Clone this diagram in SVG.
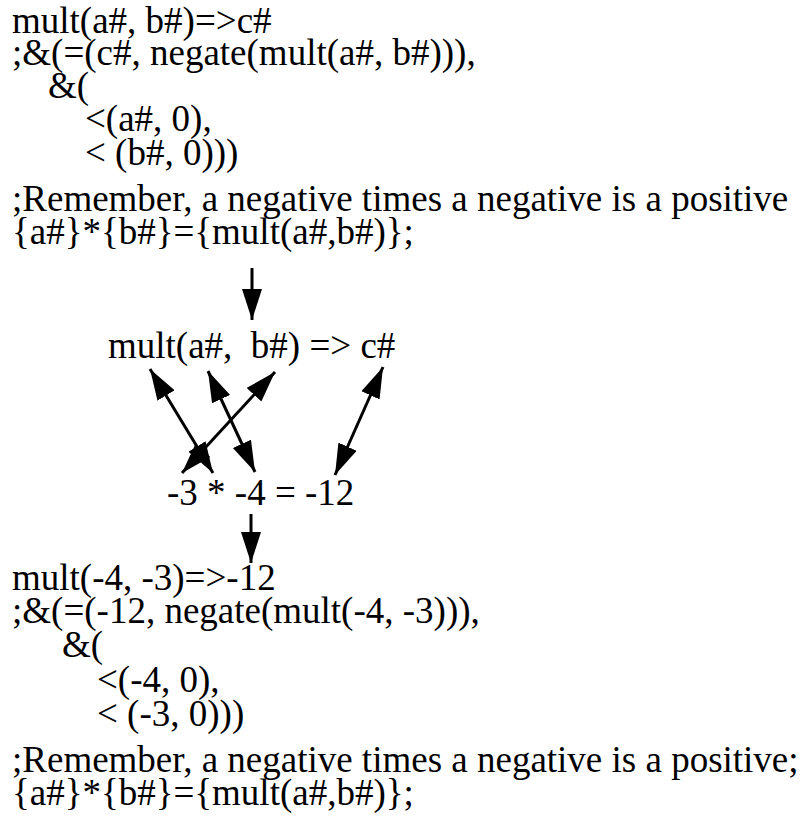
<svg xmlns="http://www.w3.org/2000/svg" width="807" height="828" viewBox="0 0 807 828">
<style>
text{font-family:"Liberation Serif","Times New Roman",serif;font-size:37px;fill:#000;white-space:pre}
.ln{stroke:#000;stroke-width:3;fill:none}
</style>
<defs>
<marker id="ah" markerUnits="userSpaceOnUse" markerWidth="34" markerHeight="22" refX="31" refY="10" orient="auto-start-reverse" viewBox="0 0 34 22">
<path d="M0,0 L31,10 L0,20 Z" fill="#000"/>
</marker>
</defs>
<rect width="807" height="828" fill="#fff"/>
<g id="rule1">
<text x="12" y="33">mult(a#, b#)=&gt;c#</text>
<text x="12" y="65">;&amp;(=(c#, negate(mult(a#, b#))),</text>
<text x="48" y="98">&amp;(</text>
<text x="85" y="131">&lt;(a#, 0),</text>
<text x="85" y="165">&lt; (b#, 0)))</text>
<text x="12" y="211">;Remember, a negative times a negative is a positive</text>
<text x="12" y="244">{a#}*{b#}={mult(a#,b#)};</text>
</g>
<g id="pattern">
<text x="108" y="358">mult(a#,  b#) =&gt; c#</text>
</g>
<g id="instance">
<text x="167" y="505">-3 * -4 = -12</text>
</g>
<g id="rule2">
<text x="12" y="590">mult(-4, -3)=&gt;-12</text>
<text x="12" y="623">;&amp;(=(-12, negate(mult(-4, -3))),</text>
<text x="62" y="657">&amp;(</text>
<text x="97" y="692">&lt;(-4, 0),</text>
<text x="97" y="726">&lt; (-3, 0)))</text>
<text x="12" y="772">;Remember, a negative times a negative is a positive;</text>
<text x="12" y="805">{a#}*{b#}={mult(a#,b#)};</text>
</g>
<g id="connectors">
<line class="ln" x1="252" y1="268" x2="252" y2="320" marker-end="url(#ah)"/>
<line class="ln" x1="150" y1="369" x2="213" y2="473" marker-start="url(#ah)" marker-end="url(#ah)"/>
<line class="ln" x1="208" y1="371" x2="255" y2="472" marker-start="url(#ah)" marker-end="url(#ah)"/>
<line class="ln" x1="275" y1="372" x2="182" y2="473" marker-start="url(#ah)" marker-end="url(#ah)"/>
<line class="ln" x1="383" y1="367" x2="335" y2="475" marker-start="url(#ah)" marker-end="url(#ah)"/>
<line class="ln" x1="251" y1="514" x2="251" y2="563" marker-end="url(#ah)"/>
</g>
</svg>
